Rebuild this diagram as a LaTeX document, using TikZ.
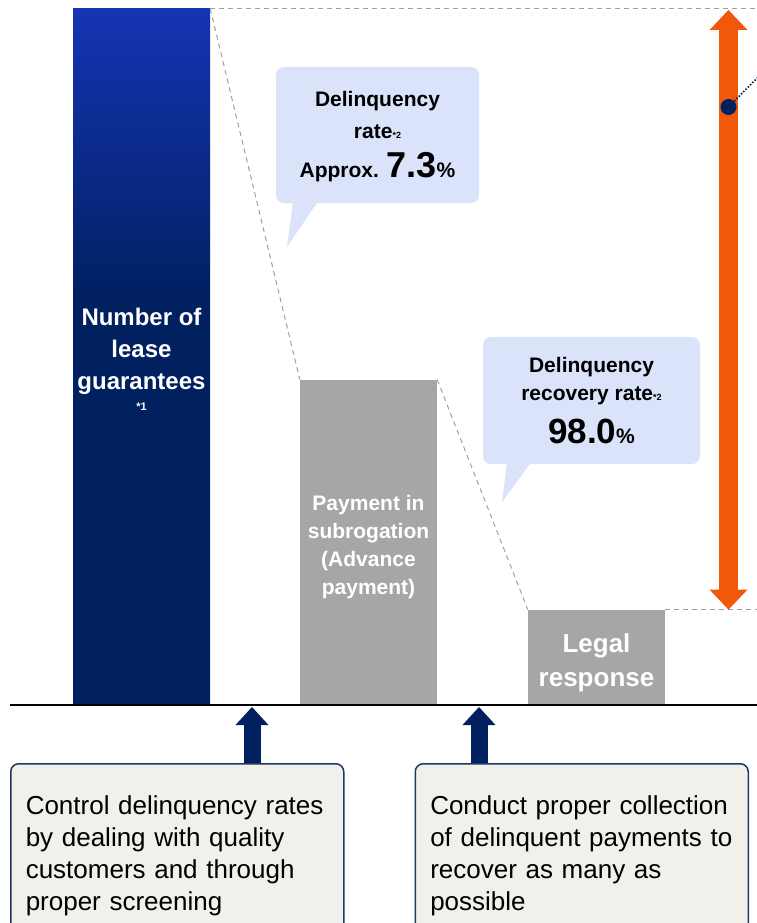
\documentclass[tikz,border=0pt]{standalone}
\usepackage{fontspec}
\setmainfont{Liberation Sans}
\usetikzlibrary{positioning,arrows.meta}

\definecolor{navy}{RGB}{0,32,96}
\definecolor{barblue}{RGB}{22,52,180}
\definecolor{bargray}{RGB}{166,166,166}
\definecolor{flame}{RGB}{241,88,10}
\definecolor{bubbleblue}{RGB}{218,227,250}
\definecolor{paper}{RGB}{242,240,235}
\definecolor{rim}{RGB}{31,56,100}
\definecolor{guidegray}{RGB}{160,160,160}

\pgfdeclareverticalshading{guarshade}{100bp}{color(0bp)=(navy); color(25bp)=(navy); color(54bp)=(navy); color(75bp)=(barblue); color(100bp)=(barblue)}

\begin{document}
\begin{tikzpicture}[
        x=1pt, y=-1pt,
        bar/.style={
            anchor=south,
            minimum width=137pt,
            inner sep=0pt,
            text=white,
            align=center,
            font=\bfseries\fontsize{21}{28}\selectfont
        },
        bubble/.style={
            fill=bubbleblue,
            rounded corners=8pt,
            inner sep=0pt,
            align=center
        },
        note/.style={
            draw=rim,
            line width=1.5pt,
            fill=paper,
            rounded corners=8pt,
            anchor=north west,
            text width=303pt,
            inner xsep=15pt,
            inner ysep=32pt,
            align=left,
            font=\fontsize{26}{32}\selectfont
        },
        guide/.style={draw=guidegray, line width=1pt, dash pattern=on 5pt off 4pt},
        push/.style={draw=navy, line width=17pt, -{Triangle[width=33pt,length=18pt,line width=0pt]}},
        span/.style={draw=flame, line width=19pt,
            {Triangle[width=38pt,length=20pt,line width=0pt]}-{Triangle[width=38pt,length=20pt,line width=0pt]}}
    ]
        \path[use as bounding box, clip] (0,0) rectangle (757,923);
        \coordinate (edge) at (757,0);

        \node[bar, shading=guarshade, minimum height=696pt, text height=108pt,
              font=\bfseries\fontsize{24}{32}\selectfont] (guar) at (141.5,705) {%
            Number of\\lease\\guarantees\\[-11pt]{\fontsize{11}{12}\selectfont *1}%
        };
        \node[bar, fill=bargray, minimum height=325pt, text height=109pt] (subro) at (368.5,705) {%
            Payment in\\subrogation\\(Advance\\payment)%
        };
        \node[bar, fill=bargray, minimum height=95pt, text height=63pt,
              font=\bfseries\fontsize{26}{34}\selectfont] (legal) at (596.5,705) {%
            Legal\\response%
        };

        \coordinate (axisL) at (10,705);
        \draw[line width=2pt] (axisL) -- (axisL -| edge);

        \draw[guide] (guar.north east) -- (subro.north west);
        \draw[guide] (subro.north east) -- (legal.north west);
        \draw[guide] (guar.north east) -- (guar.north east -| edge);
        \draw[guide] (legal.north east) -- (legal.north east -| edge);

        \coordinate (spantop) at (728.5,10);
        \draw[span] (spantop) -- (spantop |- legal.north);
        \node[circle, fill=navy, minimum size=16pt, inner sep=0pt] (mark) at (728.5,107) {};
        \coordinate (leader) at (775,60);
        \draw[navy, line width=1.6pt, dash pattern=on 1.6pt off 1.6pt] (mark) -- (leader);

        \node[bubble, minimum width=203pt, minimum height=136pt,
              font=\bfseries\fontsize{21}{32}\selectfont] (rate) at (377.5,135) {%
            \rule{0pt}{19pt}Delinquency\\rate{\fontsize{9}{9}\selectfont *2}\\[7pt]
            Approx. {\fontsize{36}{36}\selectfont 7.3}\%%
        };
        \coordinate (ratetip) at (287,247);
        \fill[bubbleblue] ([xshift=17pt]rate.south west) -- ([xshift=41pt]rate.south west) -- (ratetip) -- cycle;

        \node[bubble, minimum width=217pt, minimum height=127pt,
              font=\bfseries\fontsize{21}{28}\selectfont] (recov) at (591.5,400.5) {%
            Delinquency\\recovery rate{\fontsize{9}{9}\selectfont *2}\\[14pt]
            {\fontsize{35}{35}\selectfont 98.0}\%%
        };
        \coordinate (recovtip) at (502,502);
        \fill[bubbleblue] ([xshift=24pt]recov.south west) -- ([xshift=47pt]recov.south west) -- (recovtip) -- cycle;

        \node[note] (screen) at (10,763) {%
            Control delinquency rates\\
            by dealing with quality\\
            customers and through\\
            proper screening%
        };
        \node[note, right=70pt of screen.north east, anchor=north west] (collect) {%
            Conduct proper collection\\
            of delinquent payments to\\
            recover as many as\\
            possible%
        };

        \coordinate (gap1) at (252,707);
        \coordinate (gap2) at (479,707);
        \draw[push] (screen.north -| gap1) -- (gap1);
        \draw[push] (collect.north -| gap2) -- (gap2);
    \end{tikzpicture}
\end{document}
